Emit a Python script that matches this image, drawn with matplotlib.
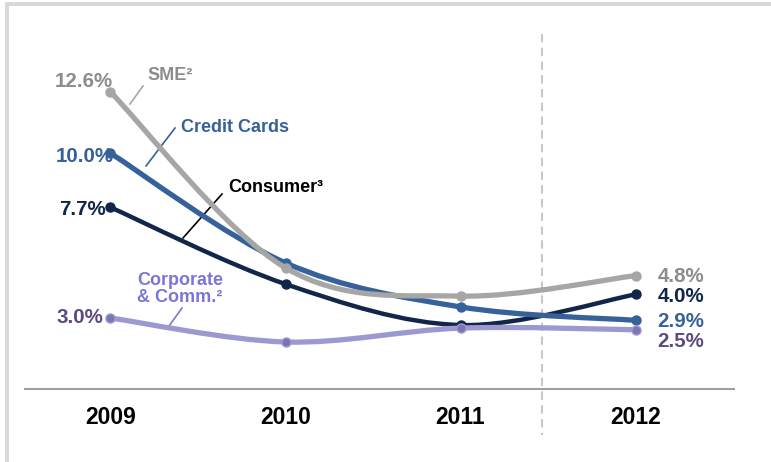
import matplotlib
matplotlib.use("Agg")
import matplotlib.pyplot as plt
from matplotlib.path import Path
from matplotlib.patches import PathPatch, Rectangle
from matplotlib.lines import Line2D
from matplotlib.transforms import Affine2D
import numpy as np

plt.rcParams['font.family'] = ['Liberation Sans', 'DejaVu Sans']

# ---- data -------------------------------------------------------------
years = ['2009', '2010', '2011', '2012']
sme = [12.6, 5.13, 3.93, 4.8]
credit_cards = [10.0, 5.34, 3.47, 2.9]
consumer = [7.7, 4.44, 2.70, 4.0]
corporate = [3.0, 1.98, 2.57, 2.5]

# ---- styling ----------------------------------------------------------
C_SME = '#a6a6a6'
C_SME_TXT = '#8c8c8c'
C_CC = '#376199'
C_CONS = '#12264a'
C_CORP = '#9c99d1'
C_CORP_MK = '#7b75b3'
C_CORP_TXT = '#7a76d4'
C_CORP_VAL = '#5e4a80'

W, H = 771, 462
fig = plt.figure(figsize=(W / 100, H / 100), dpi=100)
ax = fig.add_axes([0, 0, 1, 1])
x = np.arange(len(years))

# category spacing and value scale of the plotting area
x0_px, dx_px = 110.5, 175.0
zero_px, unit_px = 388.6, 23.54
ax.set_xlim(-x0_px / dx_px, (W - x0_px) / dx_px)
ax.set_ylim(-(H - zero_px) / unit_px, zero_px / unit_px)
ax.axis('off')

# pixel-space transform (origin top-left) for annotations
pix = Affine2D().scale(1, -1).translate(0, H)


def smooth_path(xs, ys):
    """Cubic Bezier path through the points (Catmull-Rom style smoothing)."""
    pts = np.column_stack([xs, ys]).astype(float)
    n = len(pts)
    verts = [pts[0]]
    codes = [Path.MOVETO]
    for i in range(n - 1):
        p0 = pts[i - 1] if i > 0 else pts[i]
        p1 = pts[i]
        p2 = pts[i + 1]
        p3 = pts[i + 2] if i + 2 < n else pts[i + 1]
        c1 = p1 + (p2 - p0) / 6.0
        c2 = p2 - (p3 - p1) / 6.0
        verts += [c1, c2, p2]
        codes += [Path.CURVE4] * 3
    return Path(verts, codes)


def draw_series(vals, color, lw, mk_color, z):
    ax.add_patch(PathPatch(smooth_path(x, vals), facecolor='none',
                           edgecolor=color, lw=lw, capstyle='round',
                           joinstyle='round', zorder=z))
    ax.plot(x, vals, 'o', color=mk_color, ms=6.5, mec=color, mew=1.0,
            zorder=z + 0.1)


draw_series(consumer, C_CONS, 3.2, C_CONS, 3)
draw_series(credit_cards, C_CC, 3.8, C_CC, 4)
draw_series(sme, C_SME, 3.8, C_SME, 5)
draw_series(corporate, C_CORP, 3.8, C_CORP_MK, 6)

# baseline and forecast divider
ax.plot([-0.494, 3.569], [0, 0], color='#a0a0a0', lw=1.5, zorder=2,
        solid_capstyle='butt')
ax.plot([2.466, 2.466], [15.06, -1.97], color='#c8c8c8', lw=1.5,
        linestyle=(0, (4, 2.6)), zorder=1)

# category labels
for xi, yr in zip(x, years):
    ax.text(xi, -(418 - zero_px) / unit_px, yr, ha='center', va='center',
            fontsize=16.5, fontweight='bold', color='#000000')

# value labels at both ends
fs_val = 14.8
left_labels = [(sme, C_SME_TXT, 2, -10), (credit_cards, C_CC, 3, 3),
               (consumer, C_CONS, -5, 2), (corporate, C_CORP_VAL, -7, 0)]
for vals, col, dxp, dyp in left_labels:
    ax.annotate(f'{vals[0]:.1f}%', (x[0], vals[0]), xytext=(dxp * 0.72, -dyp * 0.72),
                textcoords='offset points', ha='right', va='center',
                fontsize=fs_val, fontweight='bold', color=col, zorder=8)

right_labels = [(sme, C_SME_TXT, 1), (consumer, C_CONS, 2),
                (credit_cards, C_CC, 1), (corporate, C_CORP_VAL, 12)]
for vals, col, dyp in right_labels:
    ax.annotate(f'{vals[-1]:.1f}%', (x[-1], vals[-1]), xytext=(22 * 0.72, -dyp * 0.72),
                textcoords='offset points', ha='left', va='center',
                fontsize=fs_val, fontweight='bold', color=col, zorder=8)

# series names with leader lines (pixel coordinates)
fs_name = 13
tr = pix
ax.text(147, 76, 'SME²', transform=tr, fontsize=fs_name, fontweight='bold',
        color=C_SME_TXT, va='center', ha='left')
ax.add_line(Line2D([130, 143], [104, 86], transform=tr, color=C_SME, lw=1.2))

ax.text(181, 128, 'Credit Cards', transform=tr, fontsize=fs_name,
        fontweight='bold', color=C_CC, va='center', ha='left')
ax.add_line(Line2D([146, 175], [166, 128], transform=tr, color=C_CC, lw=1.2))

ax.text(228, 187, 'Consumer³', transform=tr, fontsize=fs_name,
        fontweight='bold', color='#000000', va='center', ha='left')
ax.add_line(Line2D([183, 222], [238, 194], transform=tr, color='#000000', lw=1.2))

ax.text(137, 289, 'Corporate\n& Comm.²', transform=tr, fontsize=fs_name,
        fontweight='bold', color=C_CORP_TXT, va='center', ha='left',
        linespacing=0.98)
ax.add_line(Line2D([182, 169], [308, 326], transform=tr, color=C_CORP_TXT, lw=1.2))

# frame bands along the top and left edges
fig.patches.append(Rectangle((5, 2), W - 5, 4, transform=pix,
                             facecolor='#d9d9d9', edgecolor='none'))
fig.patches.append(Rectangle((5, 2), 4, H - 2, transform=pix,
                             facecolor='#d9d9d9', edgecolor='none'))

fig.savefig('out.png', dpi=100, facecolor='white')
